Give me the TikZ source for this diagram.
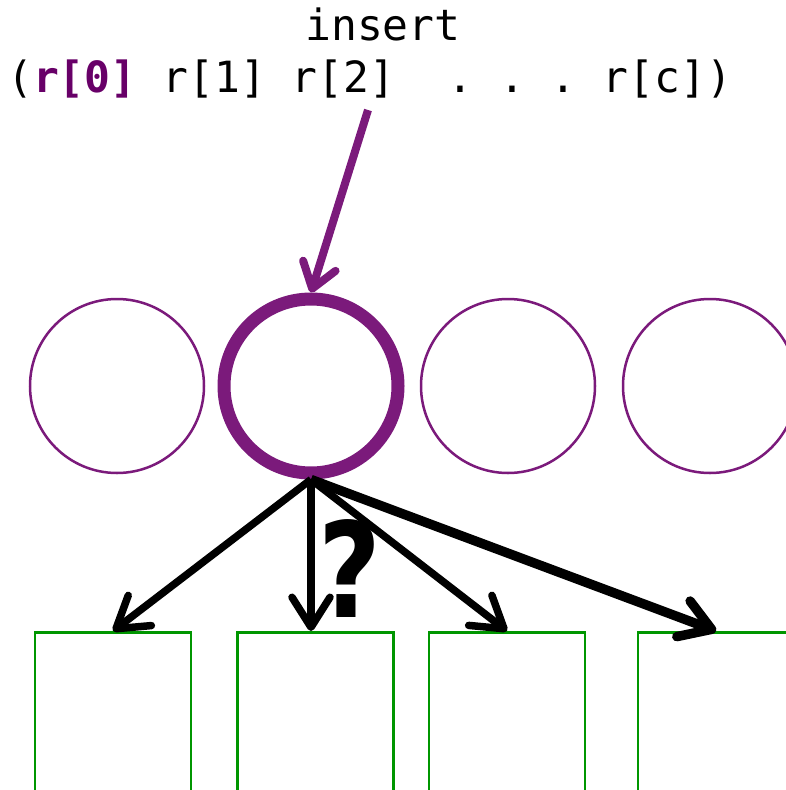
\documentclass[tikz,border=0pt]{standalone}
\usepackage{fontspec}
\setmonofont{DejaVu Sans Mono}
\newfontfamily\qfont{DejaVu Sans}
\usetikzlibrary{arrows.meta,calc}
\definecolor{slotpurple}{RGB}{123,26,123}
\definecolor{keypurple}{RGB}{104,0,104}
\definecolor{bucketgreen}{RGB}{0,150,0}
\begin{document}
\begin{tikzpicture}[x=1pt,y=-1pt,
  slot/.style={circle,draw=slotpurple,line width=2.5pt,minimum size=174pt,inner sep=0pt},
  chosen/.style={slot,line width=13pt},
  bucket/.style={rectangle,draw=bucketgreen,line width=2.5pt,minimum width=156pt,minimum height=220pt,anchor=north,inner sep=0pt},
  probe/.style={line width=7.5pt,-{Straight Barb[length=30pt,width=38pt,round]}},
  insertarrow/.style={draw=slotpurple,line width=8pt,-{Straight Barb[length=24pt,width=34pt,round]}},
  codetext/.style={font=\ttfamily\fontsize{43}{52}\selectfont,inner sep=0pt}]
\useasboundingbox (0,0) rectangle (786,790);
\clip (0,0) rectangle (786,790);

% key sequence
\node[codetext,anchor=base] (ins) at (383,40) {insert};
\node[codetext,anchor=base west] (keys) at (7,92)
  {(\textcolor{keypurple}{\bfseries r[0]} r[1] r[2]\ \ .\ .\ .\ r[c])};
\coordinate (from) at (368,110);

% hash slots
\node[slot] (c1) at (117,386) {};
\node[chosen] (c2) at (311,386) {};
\node[slot] (c3) at (508,386) {};
\node[slot] (c4) at (710,386) {};

% buckets
\node[bucket] (b1) at (113,631) {};
\node[bucket] (b2) at (315.5,631) {};
\node[bucket] (b3) at (507,631) {};
\node[bucket] (b4) at (716,631) {};

% connectors
\draw[insertarrow] (from) -- (c2.north);
\draw[probe] (c2.south) -- (b1.north);
\draw[probe] (c2.south) -- (c2.south |- b2.north);
\draw[probe] (c2.south) -- (b3.north);
\draw[probe,line width=9.5pt] (c2.south) -- (b4.north);

\node[font=\qfont\bfseries\fontsize{132}{132}\selectfont,inner sep=0pt,anchor=base,xscale=0.82] (q) at (350,617) {?};
\end{tikzpicture}
\end{document}
